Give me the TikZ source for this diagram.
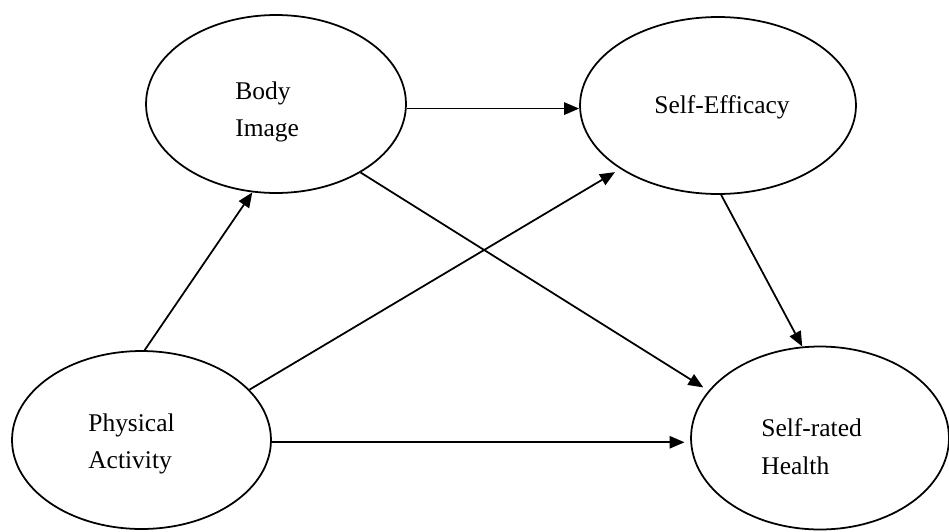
\documentclass[tikz,border=0pt]{standalone}
\usepackage{fontspec}
\setmainfont{Liberation Serif}
\usetikzlibrary{shapes.geometric}
\usetikzlibrary{arrows.meta}
\usepackage{xcolor}

\begin{document}
\begin{tikzpicture}[x=0.02cm, y=-0.02cm]
        % ================= styles =================
        \tikzset{
            % latent variable
            blob/.style={draw=black, line width=1pt, fill=white, ellipse, inner sep=0pt},
            % label inside a blob
            lbl/.style={align=left, inner sep=0pt, font=\fontsize{14.5}{21.5}\selectfont},
            % path
            path_edge/.style={line width=1pt, black, -{Triangle[length=8.5pt, width=7pt]}}
        }

        \useasboundingbox (0, 0) rectangle (949, 531);

        % ================= variables =================
        \node[blob, minimum width=5.2cm, minimum height=3.56cm] (BI) at (276, 104) {};
        \node[blob, minimum width=5.52cm, minimum height=3.54cm] (SE) at (718, 105.5) {};
        \node[blob, minimum width=5.18cm, minimum height=3.56cm] (PA) at (141.5, 440) {};
        \node[blob, minimum width=5.16cm, minimum height=3.66cm] (SRH) at (820, 438) {};

        \node[lbl, anchor=west] (BIt) at (235, 112) {Body\\Image};
        \node[lbl, anchor=base west] (SEt) at (654, 113) {Self-Efficacy};
        \node[lbl, anchor=west] (PAt) at (88, 444) {Physical\\Activity};
        \node[lbl, anchor=west] (SRHt) at (761, 447) {Self-rated\\Health};

        % ================= paths =================
        \draw[path_edge] (BI.-2) -- (BI.-2 -| SE.west);
        \draw[path_edge] (PA.88) -- (BI.255);
        \draw[path_edge, shorten >=3.5pt] (PA.25) -- (SE.213);
        \draw[path_edge, shorten >=3.5pt] (BI.-39) -- (SRH.157);
        \draw[path_edge] (SE.-88) -- (SRH.101);
        \draw[path_edge, shorten >=3.2pt] (PA.-1) -- (PA.-1 -| SRH.west);

    \end{tikzpicture}
\end{document}
